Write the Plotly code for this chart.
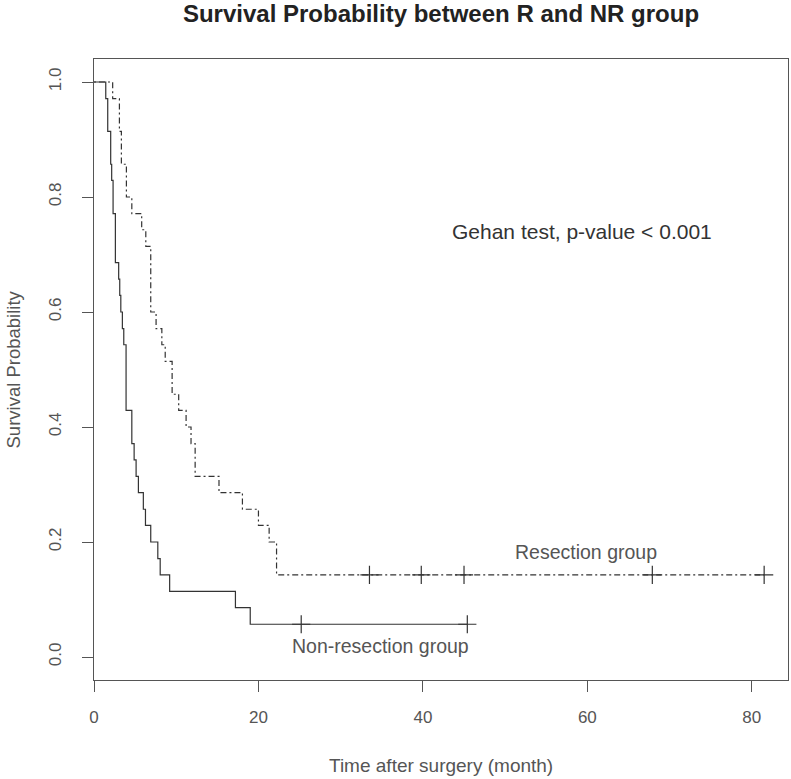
import plotly.graph_objects as go

# Non-resection group (solid): step times (months) and survival
nr_time = [0, 1.43, 1.67, 2.03, 2.15, 2.32, 2.6, 3.0, 3.13, 3.26, 3.45, 3.62, 3.9,
           4.6, 4.88, 5.12, 5.4, 6.0, 6.26, 6.9, 7.76, 8.05, 9.2, 17.2, 19.0, 45.4]
nr_surv = [1.0, 0.971, 0.914, 0.857, 0.829, 0.771, 0.686, 0.657, 0.629, 0.600, 0.571, 0.543, 0.429,
           0.371, 0.343, 0.314, 0.286, 0.257, 0.229, 0.200, 0.171, 0.143, 0.114, 0.086, 0.057, 0.057]
nr_cens_time = [25.2, 45.4]
nr_cens_surv = [0.057, 0.057]

# Resection group (dot-dash)
r_time = [0, 2.27, 3.09, 3.33, 3.94, 4.6, 5.8, 6.3, 6.9, 7.55, 8.25, 8.66, 9.5, 10.3,
          11.2, 11.8, 12.3, 15.2, 18.05, 20.0, 21.3, 22.2, 81.5]
r_surv = [1.0, 0.971, 0.914, 0.857, 0.800, 0.771, 0.743, 0.714, 0.600, 0.571, 0.543, 0.514, 0.457, 0.429,
          0.400, 0.371, 0.314, 0.286, 0.257, 0.229, 0.200, 0.143, 0.143]
r_cens_time = [33.5, 39.8, 45.0, 67.9, 81.5]
r_cens_surv = [0.143, 0.143, 0.143, 0.143, 0.143]

x_ticks = [0, 20, 40, 60, 80]
y_ticks = [0.0, 0.2, 0.4, 0.6, 0.8, 1.0]
y_tick_labels = ["0.0", "0.2", "0.4", "0.6", "0.8", "1.0"]

FONT = "Liberation Sans, Arial, Helvetica, sans-serif"
TXT = "#555555"
LINE = "#333333"

fig = go.Figure()
fig.add_trace(go.Scatter(x=nr_time, y=nr_surv, mode="lines", line_shape="hv",
                         line=dict(color=LINE, width=1.2), showlegend=False, hoverinfo="skip"))
fig.add_trace(go.Scatter(x=r_time, y=r_surv, mode="lines", line_shape="hv",
                         line=dict(color=LINE, width=1.2, dash="2px,3px,6px,3px"),
                         showlegend=False, hoverinfo="skip"))
fig.add_trace(go.Scatter(x=nr_cens_time + r_cens_time, y=nr_cens_surv + r_cens_surv, mode="markers",
                         marker=dict(symbol="cross-thin", size=13, line=dict(color=LINE, width=1.2)),
                         showlegend=False, hoverinfo="skip"))

fig.update_layout(
    width=791, height=779,
    margin=dict(l=94, r=3, t=59, b=99, autoexpand=False),
    paper_bgcolor="white", plot_bgcolor="white",
    font=dict(family=FONT, color=TXT, size=16),
    title=dict(text="<b>Survival Probability between R and NR group</b>",
               x=(94 + 788) / 2 / 791, xanchor="center", xref="container",
               y=1 - 14 / 779, yanchor="middle", yref="container",
               font=dict(size=24, color="#222222", family=FONT)),
)
fig.update_xaxes(range=[0, 84.4], tickvals=x_ticks, ticktext=[str(v) for v in x_ticks],
                 showgrid=False, zeroline=False, showline=True, linecolor="#555555", linewidth=1,
                 mirror=True, ticks="outside", ticklen=11, tickcolor="#555555", automargin=False,
                 tickfont=dict(size=17, color=TXT), ticklabelstandoff=11)
fig.update_yaxes(range=[-0.04, 1.04], tickvals=y_ticks, ticktext=y_tick_labels,
                 showgrid=False, zeroline=False, showline=True, linecolor="#555555", linewidth=1,
                 mirror=True, ticks="outside", ticklen=11, tickcolor="#555555", automargin=False,
                 tickangle=-90, tickfont=dict(size=17, color=TXT), ticklabelstandoff=14)

fig.add_annotation(text="Time after surgery (month)", xref="paper", yref="paper",
                   x=0.5, y=-(765 - 680) / 621, xanchor="center", yanchor="middle",
                   showarrow=False, font=dict(size=19, color=TXT))
fig.add_annotation(text="Survival Probability", xref="paper", yref="paper",
                   x=-(94 - 13) / 694, y=0.5, xanchor="center", yanchor="middle", textangle=-90,
                   showarrow=False, font=dict(size=18.5, color=TXT))
fig.add_annotation(text="Gehan test, p-value < 0.001", x=59.3, y=0.74, xanchor="center", yanchor="middle",
                   showarrow=False, font=dict(size=21, color="#333333"))
fig.add_annotation(text="Resection group", x=59.8, y=0.183, xanchor="center", yanchor="middle",
                   showarrow=False, font=dict(size=19.5, color=TXT))
fig.add_annotation(text="Non-resection group", x=34.8, y=0.02, xanchor="center", yanchor="middle",
                   showarrow=False, font=dict(size=19.5, color=TXT))

fig.write_html("out.html", config={"displayModeBar": False, "staticPlot": True},
               post_script="document.body.style.margin='0';document.body.style.overflow='hidden';")
